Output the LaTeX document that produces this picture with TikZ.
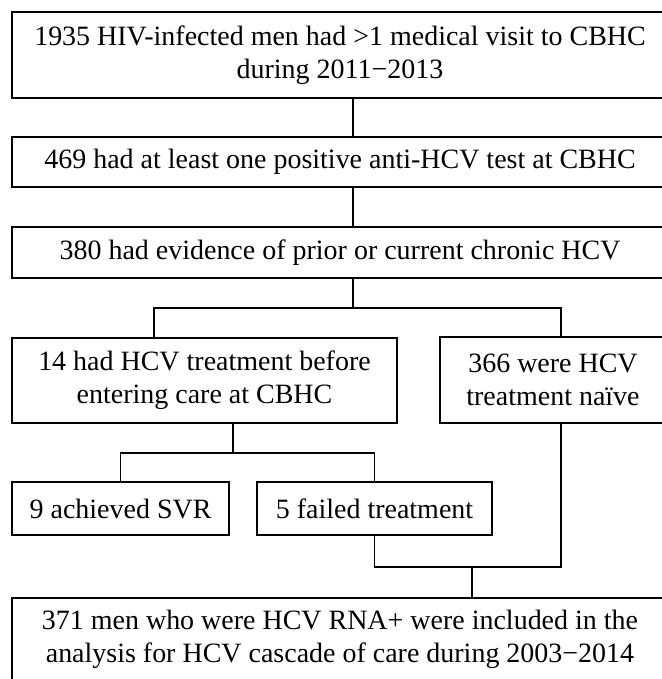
\documentclass[tikz,border=0pt]{standalone}
\usepackage{fontspec}
\setmainfont{Liberation Serif}
\usepackage{tikz}
\usetikzlibrary{positioning,calc}
\tikzset{
  flowbox/.style={rectangle,draw=black,fill=white,line width=1.3pt,
    inner sep=0pt,align=center,
    font=\fontsize{19.9pt}{23.4pt}\selectfont},
  flowline/.style={line width=1.3pt,color=black},
}
\begin{document}
\begin{tikzpicture}
  \useasboundingbox (0,0) rectangle (16.55,-16.975);
  \node[flowbox,minimum width=16.4cm,minimum height=2.15cm] (visit) at (8.5,-1.375)
    {1935 HIV-infected men had >1 medical visit to CBHC\\during 2011−2013};
  \node[flowbox,minimum width=16.4cm,minimum height=1.25cm] (anti) at (8.5,-4.05)
    {469 had at least one positive anti-HCV test at CBHC};
  \node[flowbox,minimum width=16.4cm,minimum height=1.275cm] (chron) at (8.5,-6.3125)
    {380 had evidence of prior or current chronic HCV};
  \node[flowbox,minimum width=9.625cm,minimum height=2.125cm] (prior) at (5.1125,-9.5125)
    {14 had HCV treatment before\\entering care at CBHC};
  \node[flowbox,minimum width=5.65cm,minimum height=2.15cm] (naive) at (13.825,-9.5)
    {366 were HCV\\treatment naïve};
  \node[flowbox,minimum width=5.425cm,minimum height=1.325cm] (svr) at (3.0125,-12.7125)
    {9 achieved SVR};
  \node[flowbox,minimum width=5.875cm,minimum height=1.325cm] (fail) at (9.3625,-12.7125)
    {5 failed treatment};
  \node[flowbox,minimum width=16.4cm,minimum height=2.05cm] (incl) at (8.5,-15.975)
    {371 men who were HCV RNA+ were included in the\\analysis for HCV cascade of care during 2003−2014};
  % junctions
  \coordinate (trunk) at (8.825,-7.7);
  \coordinate (left) at (3.85,-7.7);
  \coordinate (right) at (14.025,-7.7);
  \coordinate (split) at (5.825,-11.325);
  \coordinate (merge) at (11.8,-14.175);
  \draw[flowline] (visit.south -| trunk) -- (anti.north -| trunk);
  \draw[flowline] (anti.south -| trunk) -- (chron.north -| trunk);
  \draw[flowline] (chron.south -| trunk) -- (trunk);
  \draw[flowline] (prior.north -| left) -- (left) -- (right) -- (naive.north -| right);
  \draw[flowline] (prior.south -| split) -- (split);
  \draw[flowline] (svr.north) |- (split) -| (fail.north);
  \draw[flowline] (fail.south) |- (right |- merge) -- (naive.south -| right);
  \draw[flowline] (merge) -- (incl.north -| merge);
\end{tikzpicture}
\end{document}
